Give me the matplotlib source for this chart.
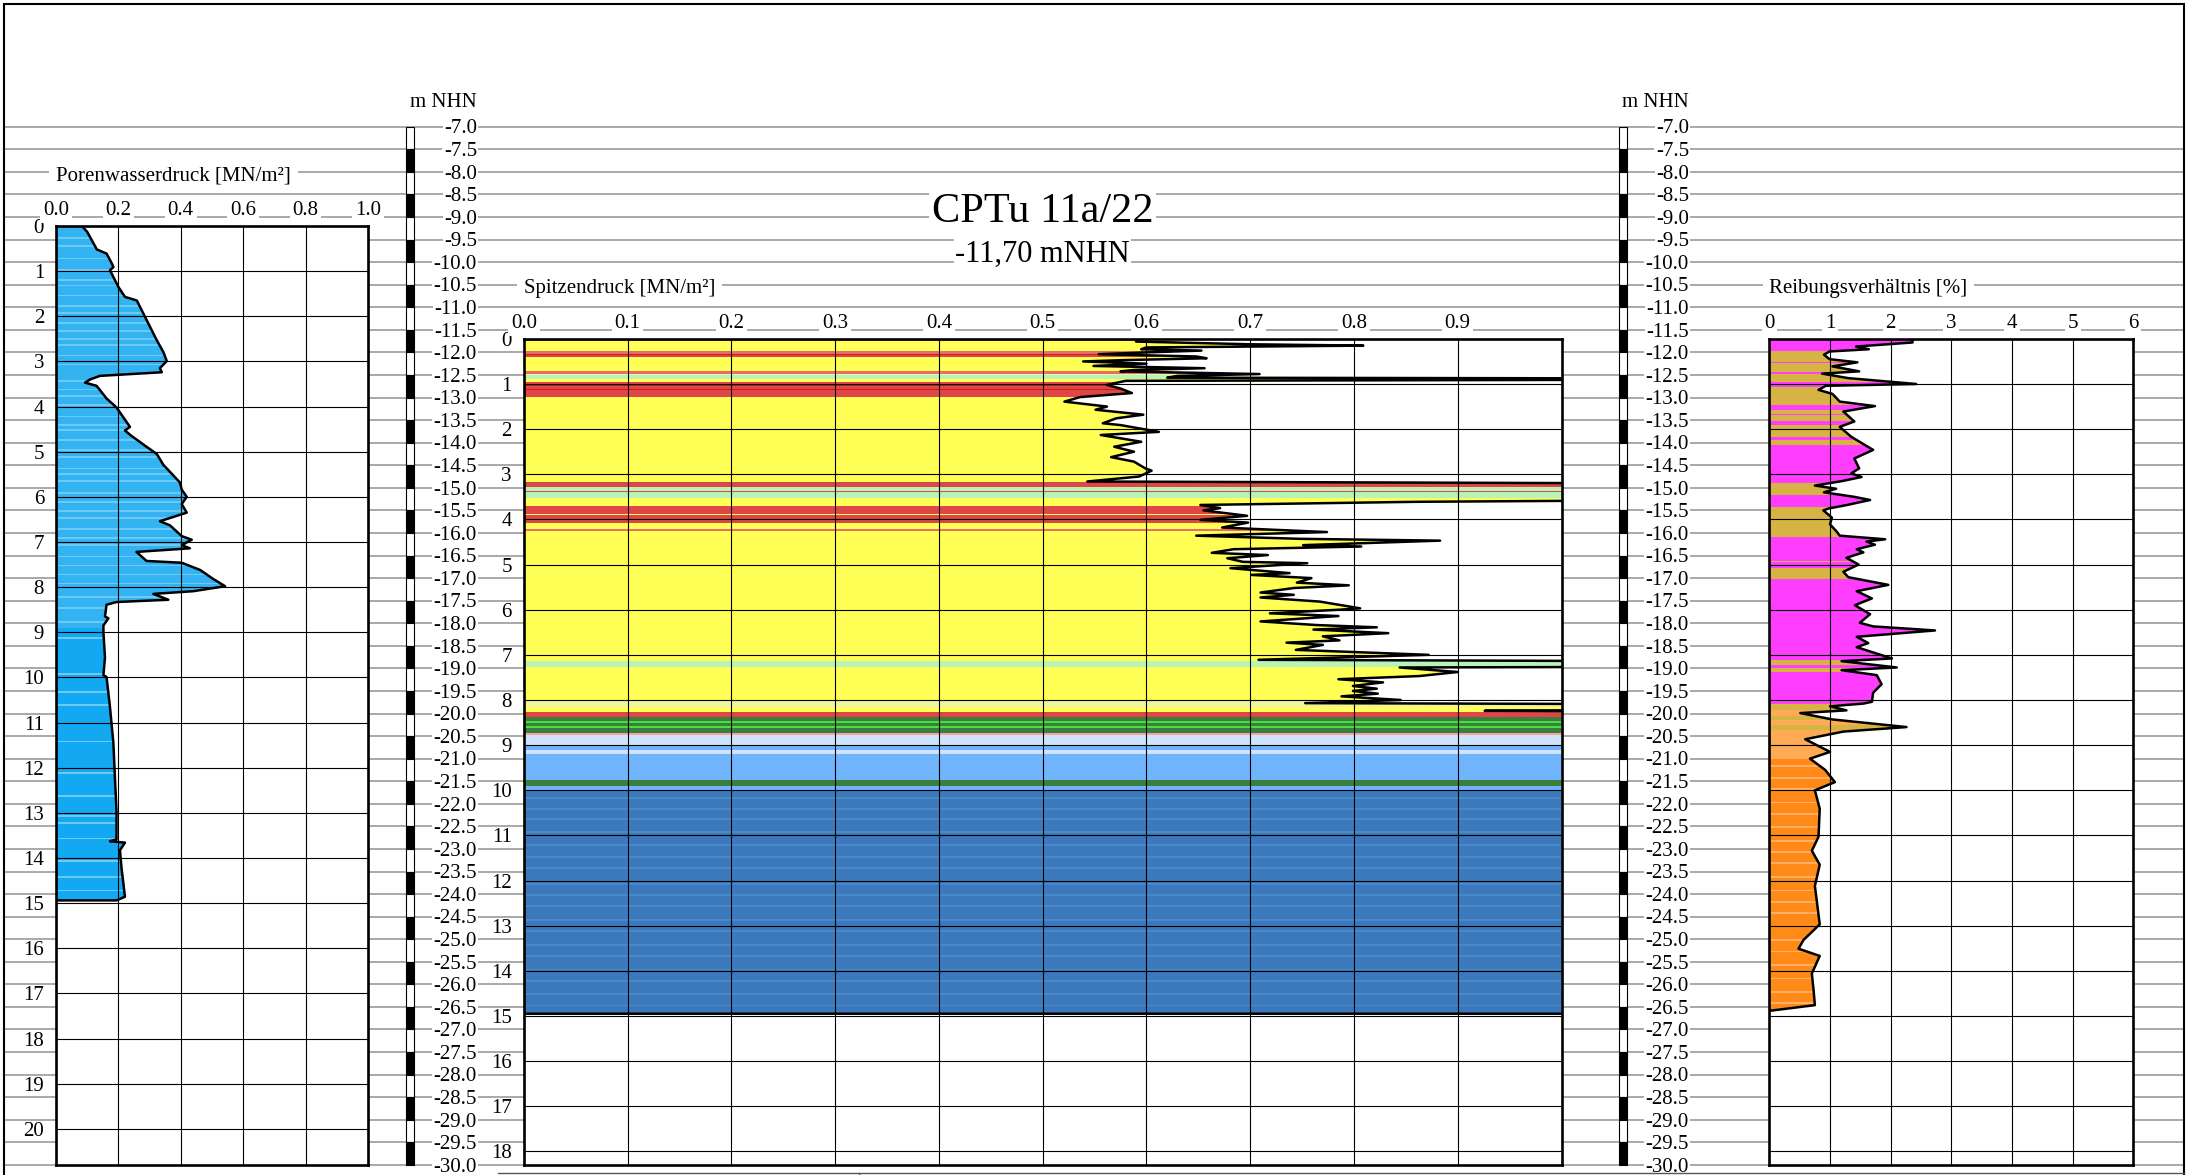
from __future__ import annotations

import numpy as np
import matplotlib
matplotlib.use("Agg")
import matplotlib.pyplot as plt
from matplotlib.patches import Polygon, Rectangle
from matplotlib.lines import Line2D

plt.rcParams["font.family"] = ["Liberation Serif", "DejaVu Serif"]

# ---------------------------------------------------------------------
# Data
# ---------------------------------------------------------------------

TITLE = "CPTu 11a/22"
START_ELEV = -11.70  # m NHN, top of the sounding
SUBTITLE = "-11,70 mNHN"

# Porenwasserdruck [MN/m²]: (depth m, value)
u_profile = [
    (0.00, 0.083), (0.13, 0.100), (0.52, 0.131), (0.61, 0.162), (0.83, 0.179),
    (0.91, 0.184), (0.98, 0.173), (1.35, 0.200), (1.57, 0.221), (1.65, 0.259),
    (2.09, 0.291), (2.53, 0.323), (2.79, 0.344), (2.99, 0.355), (3.15, 0.333),
    (3.24, 0.339), (3.32, 0.141), (3.40, 0.109), (3.47, 0.093), (3.54, 0.130),
    (3.82, 0.162), (4.02, 0.194), (4.34, 0.226), (4.45, 0.237), (4.53, 0.221),
    (4.65, 0.242), (4.89, 0.290), (5.05, 0.323), (5.29, 0.344), (5.68, 0.397),
    (5.84, 0.403), (6.00, 0.419), (6.16, 0.403), (6.35, 0.419), (6.54, 0.333),
    (6.63, 0.365), (6.87, 0.403), (6.95, 0.435), (7.07, 0.403), (7.14, 0.429),
    (7.22, 0.258), (7.42, 0.290), (7.46, 0.403), (7.62, 0.462), (7.82, 0.504),
    (7.98, 0.542), (8.09, 0.440), (8.15, 0.312), (8.28, 0.360), (8.33, 0.194),
    (8.39, 0.162), (8.65, 0.157), (8.69, 0.168), (8.85, 0.152), (9.00, 0.152),
    (9.56, 0.157), (9.95, 0.152), (9.99, 0.162), (10.66, 0.173), (11.46, 0.184),
    (12.25, 0.189), (12.96, 0.194), (13.59, 0.194), (13.63, 0.173), (13.66, 0.221),
    (13.83, 0.205), (14.22, 0.210), (14.86, 0.221), (14.94, 0.194),
]

# Spitzendruck [MN/m²]: (depth m, value); 1.2 = off scale to the right
qc_profile = [
    (0.00, 0.590), (0.06, 0.590), (0.12, 0.700), (0.15, 0.809), (0.19, 0.600),
    (0.23, 0.595), (0.26, 0.653), (0.30, 0.600), (0.34, 0.554), (0.39, 0.648),
    (0.43, 0.658), (0.47, 0.580), (0.50, 0.539), (0.55, 0.600), (0.60, 0.549),
    (0.65, 0.656), (0.69, 0.588), (0.72, 0.575), (0.78, 0.709), (0.82, 0.630),
    (0.86, 0.620), (0.88, 1.20), (0.90, 1.20), (0.93, 0.580), (1.02, 0.562),
    (1.10, 0.575), (1.20, 0.586), (1.29, 0.536), (1.39, 0.521), (1.50, 0.562),
    (1.57, 0.551), (1.68, 0.597), (1.76, 0.571), (1.87, 0.558), (1.91, 0.575),
    (2.06, 0.612), (2.13, 0.556), (2.28, 0.595), (2.39, 0.569), (2.50, 0.588),
    (2.62, 0.566), (2.72, 0.588), (2.87, 0.599), (2.92, 0.605), (3.05, 0.593),
    (3.16, 0.543), (3.21, 1.20), (3.56, 1.20), (3.61, 0.860), (3.68, 0.652),
    (3.75, 0.671), (3.80, 0.655), (3.92, 0.697), (4.01, 0.652), (4.07, 0.698),
    (4.18, 0.673), (4.28, 0.774), (4.36, 0.648), (4.43, 0.748), (4.47, 0.883),
    (4.57, 0.751), (4.60, 0.807), (4.66, 0.684), (4.74, 0.663), (4.79, 0.717),
    (4.86, 0.678), (4.94, 0.693), (4.97, 0.755), (5.08, 0.681), (5.19, 0.738),
    (5.23, 0.701), (5.30, 0.759), (5.40, 0.745), (5.46, 0.795), (5.52, 0.742),
    (5.62, 0.710), (5.67, 0.742), (5.73, 0.710), (5.82, 0.767), (5.97, 0.806),
    (6.00, 0.786), (6.08, 0.719), (6.14, 0.785), (6.26, 0.710), (6.34, 0.764),
    (6.39, 0.822), (6.44, 0.761), (6.52, 0.833), (6.59, 0.770), (6.68, 0.786),
    (6.73, 0.735), (6.78, 0.770), (6.89, 0.744), (7.00, 0.872), (7.11, 0.708),
    (7.15, 1.20), (7.26, 1.20), (7.28, 0.844), (7.38, 0.900), (7.47, 0.863),
    (7.54, 0.785), (7.61, 0.828), (7.69, 0.799), (7.75, 0.822), (7.80, 0.799),
    (7.86, 0.823), (7.92, 0.788), (8.00, 0.845), (8.07, 0.753), (8.10, 1.20),
    (8.22, 1.20), (8.24, 0.926), (8.26, 1.20), (14.95, 1.20),
]

# Reibungsverhältnis [%]: (depth m, value)
rf_profile = [
    (0.00, 2.36), (0.08, 2.36), (0.17, 1.43), (0.23, 1.64), (0.28, 0.99),
    (0.35, 0.90), (0.45, 0.99), (0.52, 1.45), (0.61, 1.04), (0.72, 1.48),
    (0.77, 0.87), (0.87, 1.30), (1.00, 2.42), (1.04, 0.93), (1.13, 0.81),
    (1.22, 1.04), (1.39, 1.16), (1.49, 1.74), (1.61, 1.22), (1.83, 1.40),
    (1.95, 1.16), (2.17, 1.35), (2.46, 1.71), (2.65, 1.40), (2.87, 1.48),
    (2.98, 1.35), (3.06, 1.52), (3.15, 1.20), (3.25, 0.75), (3.32, 1.10),
    (3.40, 0.90), (3.50, 1.40), (3.57, 1.66), (3.68, 1.28), (3.76, 0.97),
    (3.80, 0.89), (3.96, 1.03), (4.11, 1.00), (4.27, 1.11), (4.36, 1.16),
    (4.44, 1.91), (4.49, 1.60), (4.56, 1.74), (4.66, 1.44), (4.73, 1.55),
    (4.85, 1.27), (5.00, 1.47), (5.16, 1.22), (5.28, 1.30), (5.45, 1.96),
    (5.59, 1.44), (5.75, 1.69), (5.90, 1.41), (6.10, 1.66), (6.29, 1.49),
    (6.37, 1.71), (6.46, 2.73), (6.60, 1.44), (6.74, 1.63), (6.83, 1.44),
    (7.08, 2.02), (7.14, 1.19), (7.28, 2.10), (7.34, 1.19), (7.45, 1.77),
    (7.65, 1.85), (7.84, 1.71), (8.04, 1.69), (8.08, 1.55), (8.14, 1.00),
    (8.23, 1.27), (8.29, 0.51), (8.43, 1.03), (8.60, 2.26), (8.70, 1.22),
    (8.87, 0.59), (9.15, 1.00), (9.30, 0.67), (9.55, 0.92), (9.82, 1.08),
    (10.00, 0.75), (10.41, 0.83), (11.03, 0.81), (11.34, 0.70), (11.65, 0.83),
    (12.12, 0.75), (12.97, 0.83), (13.32, 0.56), (13.51, 0.48), (13.67, 0.83),
    (14.06, 0.70), (14.45, 0.73), (14.76, 0.75), (14.88, 0.04),
]

# soil type colours
SOIL = {
    "yellow": "#ffff55", "red": "#e04646", "darkred": "#c41e1e", "lightred": "#ec6c6c",
    "lightgreen": "#b8f4b8", "paleyellow": "#eef5a0", "darkgreen": "#3d7d3d",
    "brightgreen": "#3ee63e", "pink": "#f4a4a4", "paleblue": "#cfe4fc",
    "midblue": "#70b4fe", "steelblue": "#3b79bc", "steellight": "#4a89c9",
    "water": "#33b3f2", "waterdeep": "#12a8f2", "waterlight": "#6ccaf7",
    "magenta": "#ff3dff", "gold": "#d6b443", "orange": "#ff8a18",
    "lightorange": "#ffab55", "orangelight": "#ffb066",
}

# layers: (top depth, bottom depth, soil colour key)
u_layers = [(0.00, 8.90, "water"), (8.90, 15.00, "waterdeep")]
u_streaks = [0.25, 0.42, 0.70, 0.95, 1.18, 1.30, 1.52, 1.75, 1.90, 2.12, 2.30, 2.48,
             2.62, 2.85, 3.05, 3.42, 3.60, 3.75, 3.95, 4.20, 4.38, 4.50, 4.72, 4.95,
             5.10, 5.35, 5.48, 5.62, 5.90, 6.10, 6.30, 6.45, 6.70, 6.90, 7.05, 7.30,
             7.50, 7.70, 7.90, 8.20, 8.45, 8.75, 9.10, 9.90, 10.30, 10.60, 11.40,
             12.10, 12.60, 13.05, 13.20, 13.55, 14.05, 14.40, 14.70]

qc_layers = [
    (0.00, 0.04, "red"), (0.04, 0.28, "yellow"), (0.28, 0.33, "lightred"),
    (0.33, 0.35, "darkred"), (0.35, 0.40, "red"), (0.40, 0.71, "yellow"),
    (0.71, 0.77, "lightred"), (0.77, 0.80, "paleyellow"), (0.80, 0.90, "lightgreen"),
    (0.90, 0.96, "yellow"), (0.96, 1.03, "red"), (1.03, 1.05, "darkred"),
    (1.05, 1.12, "red"), (1.12, 1.14, "darkred"), (1.14, 1.28, "red"),
    (1.28, 3.18, "yellow"), (3.18, 3.28, "red"), (3.28, 3.37, "lightgreen"),
    (3.37, 3.40, "red"), (3.40, 3.52, "lightgreen"), (3.52, 3.70, "yellow"),
    (3.70, 3.88, "red"), (3.88, 3.91, "yellow"), (3.91, 4.07, "red"),
    (4.07, 4.22, "yellow"), (4.22, 4.26, "lightred"), (4.26, 7.14, "yellow"),
    (7.14, 7.26, "lightgreen"), (7.26, 8.02, "yellow"), (8.02, 8.15, "paleyellow"),
    (8.15, 8.26, "yellow"), (8.26, 8.38, "red"), (8.38, 8.47, "darkgreen"),
    (8.47, 8.50, "brightgreen"), (8.50, 8.58, "darkgreen"), (8.58, 8.62, "brightgreen"),
    (8.62, 8.74, "darkgreen"), (8.74, 8.78, "pink"), (8.78, 9.02, "paleblue"),
    (9.02, 9.10, "midblue"), (9.10, 9.20, "paleblue"), (9.20, 9.77, "midblue"),
    (9.77, 9.90, "darkgreen"), (9.90, 9.99, "midblue"), (9.99, 14.95, "steelblue"),
]
qc_streaks = [10.15, 10.40, 10.62, 10.90, 11.20, 11.45, 11.70, 12.05, 12.30, 12.55,
              12.85, 13.10, 13.40, 13.65, 13.95, 14.20, 14.50, 14.75]

rf_layers = [
    (0.00, 0.28, "magenta"), (0.28, 0.51, "gold"), (0.51, 0.54, "magenta"),
    (0.54, 0.73, "gold"), (0.73, 0.78, "magenta"), (0.78, 0.95, "gold"),
    (0.95, 1.06, "magenta"), (1.06, 1.46, "gold"), (1.46, 1.57, "magenta"),
    (1.57, 1.66, "gold"), (1.66, 1.69, "magenta"), (1.69, 1.83, "gold"),
    (1.83, 1.91, "magenta"), (1.91, 2.17, "gold"), (2.17, 2.24, "magenta"),
    (2.24, 2.35, "gold"), (2.35, 3.20, "magenta"), (3.20, 3.45, "gold"),
    (3.45, 3.57, "magenta"), (3.57, 3.72, "magenta"), (3.72, 4.38, "gold"),
    (4.38, 4.92, "magenta"), (4.92, 4.95, "gold"), (4.95, 5.08, "magenta"),
    (5.08, 5.32, "gold"), (5.32, 7.11, "magenta"), (7.11, 7.22, "gold"),
    (7.22, 7.30, "magenta"), (7.30, 7.38, "gold"), (7.38, 8.08, "magenta"),
    (8.08, 8.23, "gold"), (8.23, 8.35, "lightorange"), (8.35, 8.45, "gold"),
    (8.45, 8.55, "lightorange"), (8.55, 8.66, "gold"), (8.66, 9.30, "lightorange"),
    (9.30, 14.88, "orange"),
]
rf_streaks = [9.45, 9.70, 9.95, 10.25, 10.50, 10.80, 11.10, 11.35, 11.60, 11.90,
              12.20, 12.45, 12.70, 13.00, 13.30, 13.55, 13.85, 14.15, 14.45, 14.70]

elev_levels = np.arange(-7.0, -30.01, -0.5)

# ---------------------------------------------------------------------
# Layout (pixels of the 2190 x 1175 sheet)
# ---------------------------------------------------------------------

W, H = 2190, 1175
ROW_M7 = 126.7      # pixel row of the -7.0 m NHN line
PX_PER_M = 45.14
FRAME_L, FRAME_R, FRAME_T = 4, 2184, 4
GRAY = "#a9a9a9"
FS = 15


def elev_at_row(row: float) -> float:
    return -7.0 - (row - ROW_M7) / PX_PER_M


def frac_of_elev(elev: float) -> float:
    return 1.0 - (ROW_M7 + (-7.0 - elev) * PX_PER_M) / H


def draw_panel(fig, x0, x1, el_top, el_bot, xmax, grid_x, tick_vals, tick_labels,
               title, profile, layers, streaks=None, streak_col=None, depth_labels=True):
    bottom = frac_of_elev(el_bot)
    ax = fig.add_axes([x0 / W, bottom, (x1 - x0) / W, frac_of_elev(el_top) - bottom], zorder=2)
    ax.set_facecolor("white")
    span = el_top - el_bot
    ax.set_xlim(0, xmax)
    ax.set_ylim(span, 0)

    ax.set_xticks(grid_x)
    ax.set_yticks(np.arange(0, int(span) + 1))
    ax.set_yticklabels([str(i) for i in range(int(span) + 1)])
    ax.tick_params(axis="x", length=0, labelbottom=False)
    ax.tick_params(axis="y", length=0, pad=8.6, labelsize=FS, labelleft=depth_labels)
    ax.grid(True, color="black", lw=0.8)
    for s in ax.spines.values():
        s.set_linewidth(1.9)

    d = np.array([p[0] for p in profile])
    v = np.array([p[1] for p in profile])
    xs = np.minimum(v, xmax)
    verts = np.column_stack([np.r_[0, xs, 0], np.r_[d[0], d, d[-1]]])
    clip = Polygon(verts, closed=True, fc="none", ec="none")
    ax.add_patch(clip)

    bands = [(t, b, SOIL[c]) for t, b, c in layers]
    if streaks:
        bands += [(s, s + 0.04, SOIL[streak_col]) for s in streaks]
    for t, b, col in bands:
        band = ax.axhspan(t, b, color=col, lw=0, zorder=1)
        band.set_clip_path(clip)

    ax.plot(np.r_[v, 0], np.r_[d, d[-1]], color="black", lw=1.8, zorder=3)

    box = dict(fc="white", ec="none", pad=2)
    for tv, tl in zip(tick_vals, tick_labels):
        ax.annotate(tl, xy=(tv, 1), xycoords=("data", "axes fraction"),
                    xytext=(0, 11), textcoords="offset pixels", ha="center",
                    va="baseline", fontsize=FS, bbox=box, annotation_clip=False)
    ax.annotate(title, xy=(0, 1), xycoords="axes fraction", xytext=(0, 46),
                textcoords="offset pixels", ha="left", va="baseline", fontsize=FS,
                bbox=dict(fc="white", ec="none", pad=5), annotation_clip=False)
    return ax


def main() -> None:
    fig = plt.figure(figsize=(W / 100, H / 100), dpi=100)
    fig.patch.set_facecolor("white")

    # background sheet: elevation lines, scale bars, m NHN labels
    bg = fig.add_axes([0, 0, 1, 1], zorder=0)
    bg.set_xlim(0, W)
    bg.set_ylim(elev_at_row(H), elev_at_row(0))
    bg.axis("off")
    bg.hlines(elev_levels, FRAME_L, FRAME_R, color=GRAY, lw=1.4, zorder=1)

    tops = elev_levels[:-1]
    block_cols = ["white" if i % 2 == 0 else "black" for i in range(len(tops))]
    for bar_x, lab_x in [(410, 477), (1623, 1689)]:
        bg.bar(bar_x, -0.5, bottom=tops, width=8, color=block_cols,
               edgecolor="black", lw=0.8, zorder=3)
        for el in elev_levels:
            bg.text(lab_x, el - 0.15, f"{el:.1f}", ha="right", va="baseline", fontsize=FS,
                    bbox=dict(fc="white", ec="none", pad=1), zorder=4)
        bg.text(lab_x, -6.557, "m NHN", ha="right", va="baseline", fontsize=FS, zorder=4)

    main_x0, main_x1 = 523.8, 1561.5
    xc = (main_x0 + main_x1) / 2
    bg.text(xc, -9.11, TITLE, ha="center", va="baseline", fontsize=30.5,
            bbox=dict(fc="white", ec="none", pad=2), zorder=4)
    bg.text(xc, -9.99, SUBTITLE, ha="center", va="baseline", fontsize=22,
            bbox=dict(fc="white", ec="none", pad=1), zorder=4)

    # Porenwasserdruck
    u_ticks = [0.0, 0.2, 0.4, 0.6, 0.8, 1.0]
    draw_panel(fig, 56, 368, -9.2, -30.0, 1.0, u_ticks, u_ticks,
               [f"{t:.1f}" for t in u_ticks], "Porenwasserdruck [MN/m²]",
               u_profile, u_layers, streaks=u_streaks, streak_col="waterlight")

    # Spitzendruck
    qc_grid = [i / 10 for i in range(11)]
    qc_ticks = qc_grid[:-1]
    draw_panel(fig, main_x0, main_x1, START_ELEV, -30.0, 1.0, qc_grid, qc_ticks,
               [f"{t:.1f}" for t in qc_ticks], "Spitzendruck [MN/m²]",
               qc_profile, qc_layers, streaks=qc_streaks, streak_col="steellight")

    # Reibungsverhältnis
    rf_ticks = [0, 1, 2, 3, 4, 5, 6]
    draw_panel(fig, 1769.4, 2133.3, START_ELEV, -30.0, 6.0, rf_ticks, rf_ticks,
               [str(t) for t in rf_ticks], "Reibungsverhältnis [%]",
               rf_profile, rf_layers, streaks=rf_streaks, streak_col="orangelight",
               depth_labels=False)

    # sheet frame and start of the table below
    fig.add_artist(Rectangle((FRAME_L / W, -0.01), (FRAME_R - FRAME_L) / W,
                             1 - FRAME_T / H + 0.01, transform=fig.transFigure,
                             fill=False, ec="black", lw=1.5, zorder=10))
    fig.add_artist(Line2D([498 / W, FRAME_R / W], [1 - 1172.5 / H] * 2,
                          transform=fig.transFigure, color="#555555", lw=1, zorder=10))
    fig.add_artist(Line2D([859 / W, 859 / W], [1 - 1172.5 / H, 0],
                          transform=fig.transFigure, color="#555555", lw=1, zorder=10))

    fig.savefig("out.png", dpi=100, facecolor="white")


if __name__ == "__main__":
    main()
